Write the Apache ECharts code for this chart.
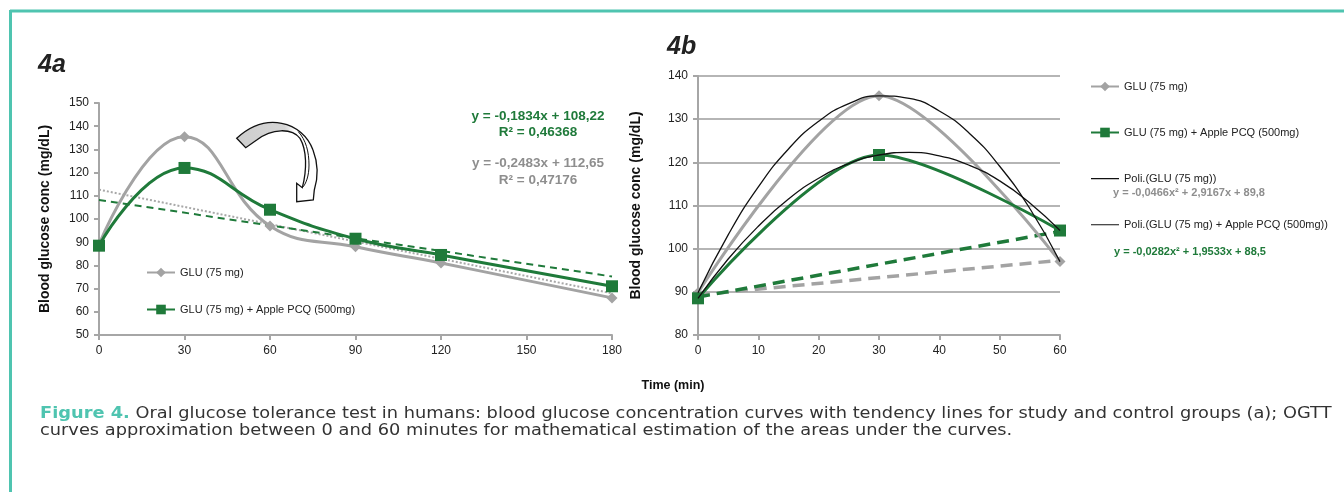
<!DOCTYPE html>
<html><head><meta charset="utf-8">
<script src="https://cdn.jsdelivr.net/npm/echarts@6/dist/echarts.min.js"></script>
<style>html,body{margin:0;padding:0;background:#fff}#c{width:1344px;height:492px}</style>
</head><body><div id="c"></div>
<script>
// ---- Data ----
const timeA = [0, 30, 60, 90, 120, 180];
const gluA = [89, 135.5, 97, 88, 81, 66];
const appleA = [88.5, 122, 104, 91.5, 84.5, 71];
const trendXA = [0, 180];
const gluTrendA = [112.65, 67.96];
const appleTrendA = [108.22, 75.21];

const timeB = [0, 30, 60];
const gluB = [89.8, 135.4, 97.0];
const appleB = [88.5, 121.7, 104.2];
const polyXB = [0, 5, 10, 15, 20, 25, 30, 35, 40, 45, 50, 55, 60];
const gluPolyB = [89.8, 103.2, 114.3, 123.1, 129.5, 133.6, 135.4, 134.8, 131.9, 126.7, 119.1, 109.3, 97.0];
const applePolyB = [88.5, 97.6, 105.2, 111.5, 116.3, 119.7, 121.7, 122.3, 121.5, 119.3, 115.7, 110.6, 104.2];
const chordXB = [0, 60];
const gluChordB = [89.3, 97.3];
const appleChordB = [88.8, 104.0];

const nameGlu = 'GLU (75 mg)';
const nameApple = 'GLU (75 mg) + Apple PCQ (500mg)';
const namePolyGlu = 'Poli.(GLU (75 mg))';
const namePolyApple = 'Poli.(GLU (75 mg) + Apple PCQ (500mg))';

const GREEN = '#1f7a3a', GRAY = '#a3a3a3', TEAL = '#4fc4b0';
const zip = (xs, ys) => xs.map((x, i) => [x, ys[i]]);
const FONT = 'Liberation Sans, Arial, sans-serif';
const LINE_ICON = 'path://M0,0H0.01V0.01H0Z M0,5.4H30V6.6H0Z M0,12H0.01V12.01H0Z';

const chart = echarts.init(document.getElementById('c'), null, {renderer: 'canvas'});

const axisCommon = {
  axisLine: {lineStyle: {color: '#a6a6a6', width: 2}},
  axisTick: {show: true, inside: false, length: 5, lineStyle: {color: '#a6a6a6', width: 2}},
  axisLabel: {color: '#222', fontSize: 12, fontFamily: FONT, margin: 10},
};

const ARROW_PATH = 'M236.7,138.3 C250,126 265,120 281.7,123.3 C296,126 308,136 313,150 C318,163 318,178 314.3,190 ' +
  'L313.3,200 L296.7,201.7 L296.7,183.3 L302.3,187.7 C307,170 307,150 300,138.3 C292,128 272,128 256.7,140 L245.7,147.7 Z';
const ARROW_EDGE = 'M298.3,131.7 C306,140 309,152 309,165 C309,176 306,184 302.3,187.7';

chart.setOption({
  animation: false,
  textStyle: {fontFamily: FONT},
  grid: [
    {left: 99, right: 732, top: 103, bottom: 157},
    {left: 698, right: 284, top: 76, bottom: 157}
  ],
  xAxis: [
    Object.assign({}, axisCommon, {gridIndex: 0, type: 'value', min: 0, max: 180, interval: 30, splitLine: {show: false}}),
    Object.assign({}, axisCommon, {gridIndex: 1, type: 'value', min: 0, max: 60, interval: 10, splitLine: {show: false}})
  ],
  yAxis: [
    Object.assign({}, axisCommon, {gridIndex: 0, type: 'value', min: 50, max: 150, interval: 10, splitLine: {show: false},
      name: 'Blood glucose conc (mg/dL)', nameLocation: 'middle', nameRotate: 90, nameGap: 47,
      nameTextStyle: {fontWeight: 'bold', fontSize: 14, color: '#111', fontFamily: FONT}}),
    Object.assign({}, axisCommon, {gridIndex: 1, type: 'value', min: 80, max: 140, interval: 10,
      splitLine: {show: true, lineStyle: {color: '#b5b5b5', width: 2}},
      name: 'Blood glucose conc (mg/dL)', nameLocation: 'middle', nameRotate: 90, nameGap: 55,
      nameTextStyle: {fontWeight: 'bold', fontSize: 14, color: '#111', fontFamily: FONT}})
  ],
  legend: [
    {orient: 'vertical', left: 141, top: 262, itemWidth: 28, itemHeight: 12, itemGap: 26,
     data: [nameGlu, nameApple], textStyle: {fontSize: 11, color: '#222', fontFamily: FONT}, selectedMode: false},
    {orient: 'vertical', left: 1085, top: 76, itemWidth: 28, itemHeight: 12, itemGap: 35,
     data: [nameGlu, nameApple, {name: namePolyGlu, icon: LINE_ICON}, {name: namePolyApple, icon: LINE_ICON}],
     textStyle: {fontSize: 11, color: '#222', fontFamily: FONT}, selectedMode: false}
  ],
  series: [
    // 4a trend lines
    {type: 'line', xAxisIndex: 0, yAxisIndex: 0, data: zip(trendXA, gluTrendA), symbol: 'none', z: 1,
     lineStyle: {color: '#a8a8a8', width: 2, type: [2, 2]}},
    {type: 'line', xAxisIndex: 0, yAxisIndex: 0, data: zip(trendXA, appleTrendA), symbol: 'none', z: 1,
     lineStyle: {color: GREEN, width: 2, type: [7, 5]}},
    // 4a data
    {name: nameGlu, type: 'line', xAxisIndex: 0, yAxisIndex: 0, data: zip(timeA, gluA), smooth: 0.45,
     symbol: 'diamond', symbolSize: 11, itemStyle: {color: GRAY}, lineStyle: {color: GRAY, width: 3}, z: 3},
    {name: nameApple, type: 'line', xAxisIndex: 0, yAxisIndex: 0, data: zip(timeA, appleA), smooth: 0.45,
     symbol: 'rect', symbolSize: 12, itemStyle: {color: GREEN}, lineStyle: {color: GREEN, width: 3}, z: 4},
    // 4b chords (dashed)
    {type: 'line', xAxisIndex: 1, yAxisIndex: 1, data: zip(chordXB, gluChordB), symbol: 'none', z: 1,
     lineStyle: {color: GRAY, width: 3.5, type: [12, 7]}},
    {type: 'line', xAxisIndex: 1, yAxisIndex: 1, data: zip(chordXB, appleChordB), symbol: 'none', z: 1,
     lineStyle: {color: GREEN, width: 3.5, type: [12, 7]}},
    // 4b data
    {name: nameGlu, type: 'line', xAxisIndex: 1, yAxisIndex: 1, data: zip(timeB, gluB), smooth: 0.3,
     symbol: 'diamond', symbolSize: 11, itemStyle: {color: GRAY}, lineStyle: {color: GRAY, width: 3}, z: 3},
    {name: nameApple, type: 'line', xAxisIndex: 1, yAxisIndex: 1, data: zip(timeB, appleB), smooth: 0.3,
     symbol: 'rect', symbolSize: 12, itemStyle: {color: GREEN}, lineStyle: {color: GREEN, width: 3}, z: 4},
    // 4b polynomial trend lines
    {name: namePolyGlu, type: 'line', xAxisIndex: 1, yAxisIndex: 1, data: zip(polyXB, gluPolyB), smooth: 0.5,
     symbol: 'none', itemStyle: {color: '#111'}, lineStyle: {color: '#111', width: 1.3}, z: 5},
    {name: namePolyApple, type: 'line', xAxisIndex: 1, yAxisIndex: 1, data: zip(polyXB, applePolyB), smooth: 0.5,
     symbol: 'none', itemStyle: {color: '#111'}, lineStyle: {color: '#111', width: 1.3}, z: 5},
    // decorative curved arrow
    {type: 'custom', coordinateSystem: 'none', data: [0], z: 10, silent: true,
     renderItem: function () {
       return {type: 'group', children: [
         {type: 'path', shape: {pathData: ARROW_PATH},
          style: {fill: new echarts.graphic.LinearGradient(0, 0, 1, 0, [
            {offset: 0, color: '#cdcdcd'}, {offset: 0.6, color: '#d6d6d6'}, {offset: 0.72, color: '#ffffff'}, {offset: 1, color: '#ffffff'}]),
            stroke: '#111', lineWidth: 1.3}},
         {type: 'path', shape: {pathData: ARROW_EDGE}, style: {fill: null, stroke: '#111', lineWidth: 1}}
       ]};
     }}
  ],
  graphic: [
    // frame
    {type: 'line', shape: {x1: 10, y1: 11, x2: 1344, y2: 11}, style: {stroke: TEAL, lineWidth: 3}},
    {type: 'line', shape: {x1: 10.5, y1: 10, x2: 10.5, y2: 492}, style: {stroke: TEAL, lineWidth: 3}},
    // panel titles
    {type: 'text', x: 38, y: 53, style: {text: '4a', font: 'italic bold 25px ' + FONT, fill: '#222'}},
    {type: 'text', x: 667, y: 35, style: {text: '4b', font: 'italic bold 25px ' + FONT, fill: '#222'}},
    // 4a equations
    {type: 'text', x: 538, y: 108, style: {text: 'y = -0,1834x + 108,22\nR² = 0,46368', align: 'center',
      font: 'bold 13.5px ' + FONT, fill: GREEN, lineHeight: 16}},
    {type: 'text', x: 538, y: 155, style: {text: 'y = -0,2483x + 112,65\nR² = 0,47176', align: 'center',
      font: 'bold 13.5px ' + FONT, fill: '#8e8e8e', lineHeight: 17}},
    // 4b equations
    {type: 'text', x: 1113, y: 187, style: {text: 'y = -0,0466x² + 2,9167x + 89,8', font: 'bold 11px ' + FONT, fill: '#8e8e8e'}},
    {type: 'text', x: 1114, y: 246, style: {text: 'y = -0,0282x² + 1,9533x + 88,5', font: 'bold 11px ' + FONT, fill: GREEN}},
    // x axis title
    {type: 'text', x: 673, y: 379, style: {text: 'Time (min)', align: 'center', font: 'bold 12.5px ' + FONT, fill: '#111'}},
    // caption
    {type: 'text', x: 40, y: 406, scaleX: 1.186, style: {
      text: '{b|Figure 4.} Oral glucose tolerance test in humans: blood glucose concentration curves with tendency lines for study and control groups (a); OGTT\ncurves approximation between 0 and 60 minutes for mathematical estimation of the areas under the curves.',
      font: '15px DejaVu Sans, sans-serif', fill: '#333', lineHeight: 17,
      rich: {b: {fill: TEAL, fontWeight: 'bold', fontSize: 15, fontFamily: 'DejaVu Sans, sans-serif'}}}}
  ]
});
</script></body></html>
